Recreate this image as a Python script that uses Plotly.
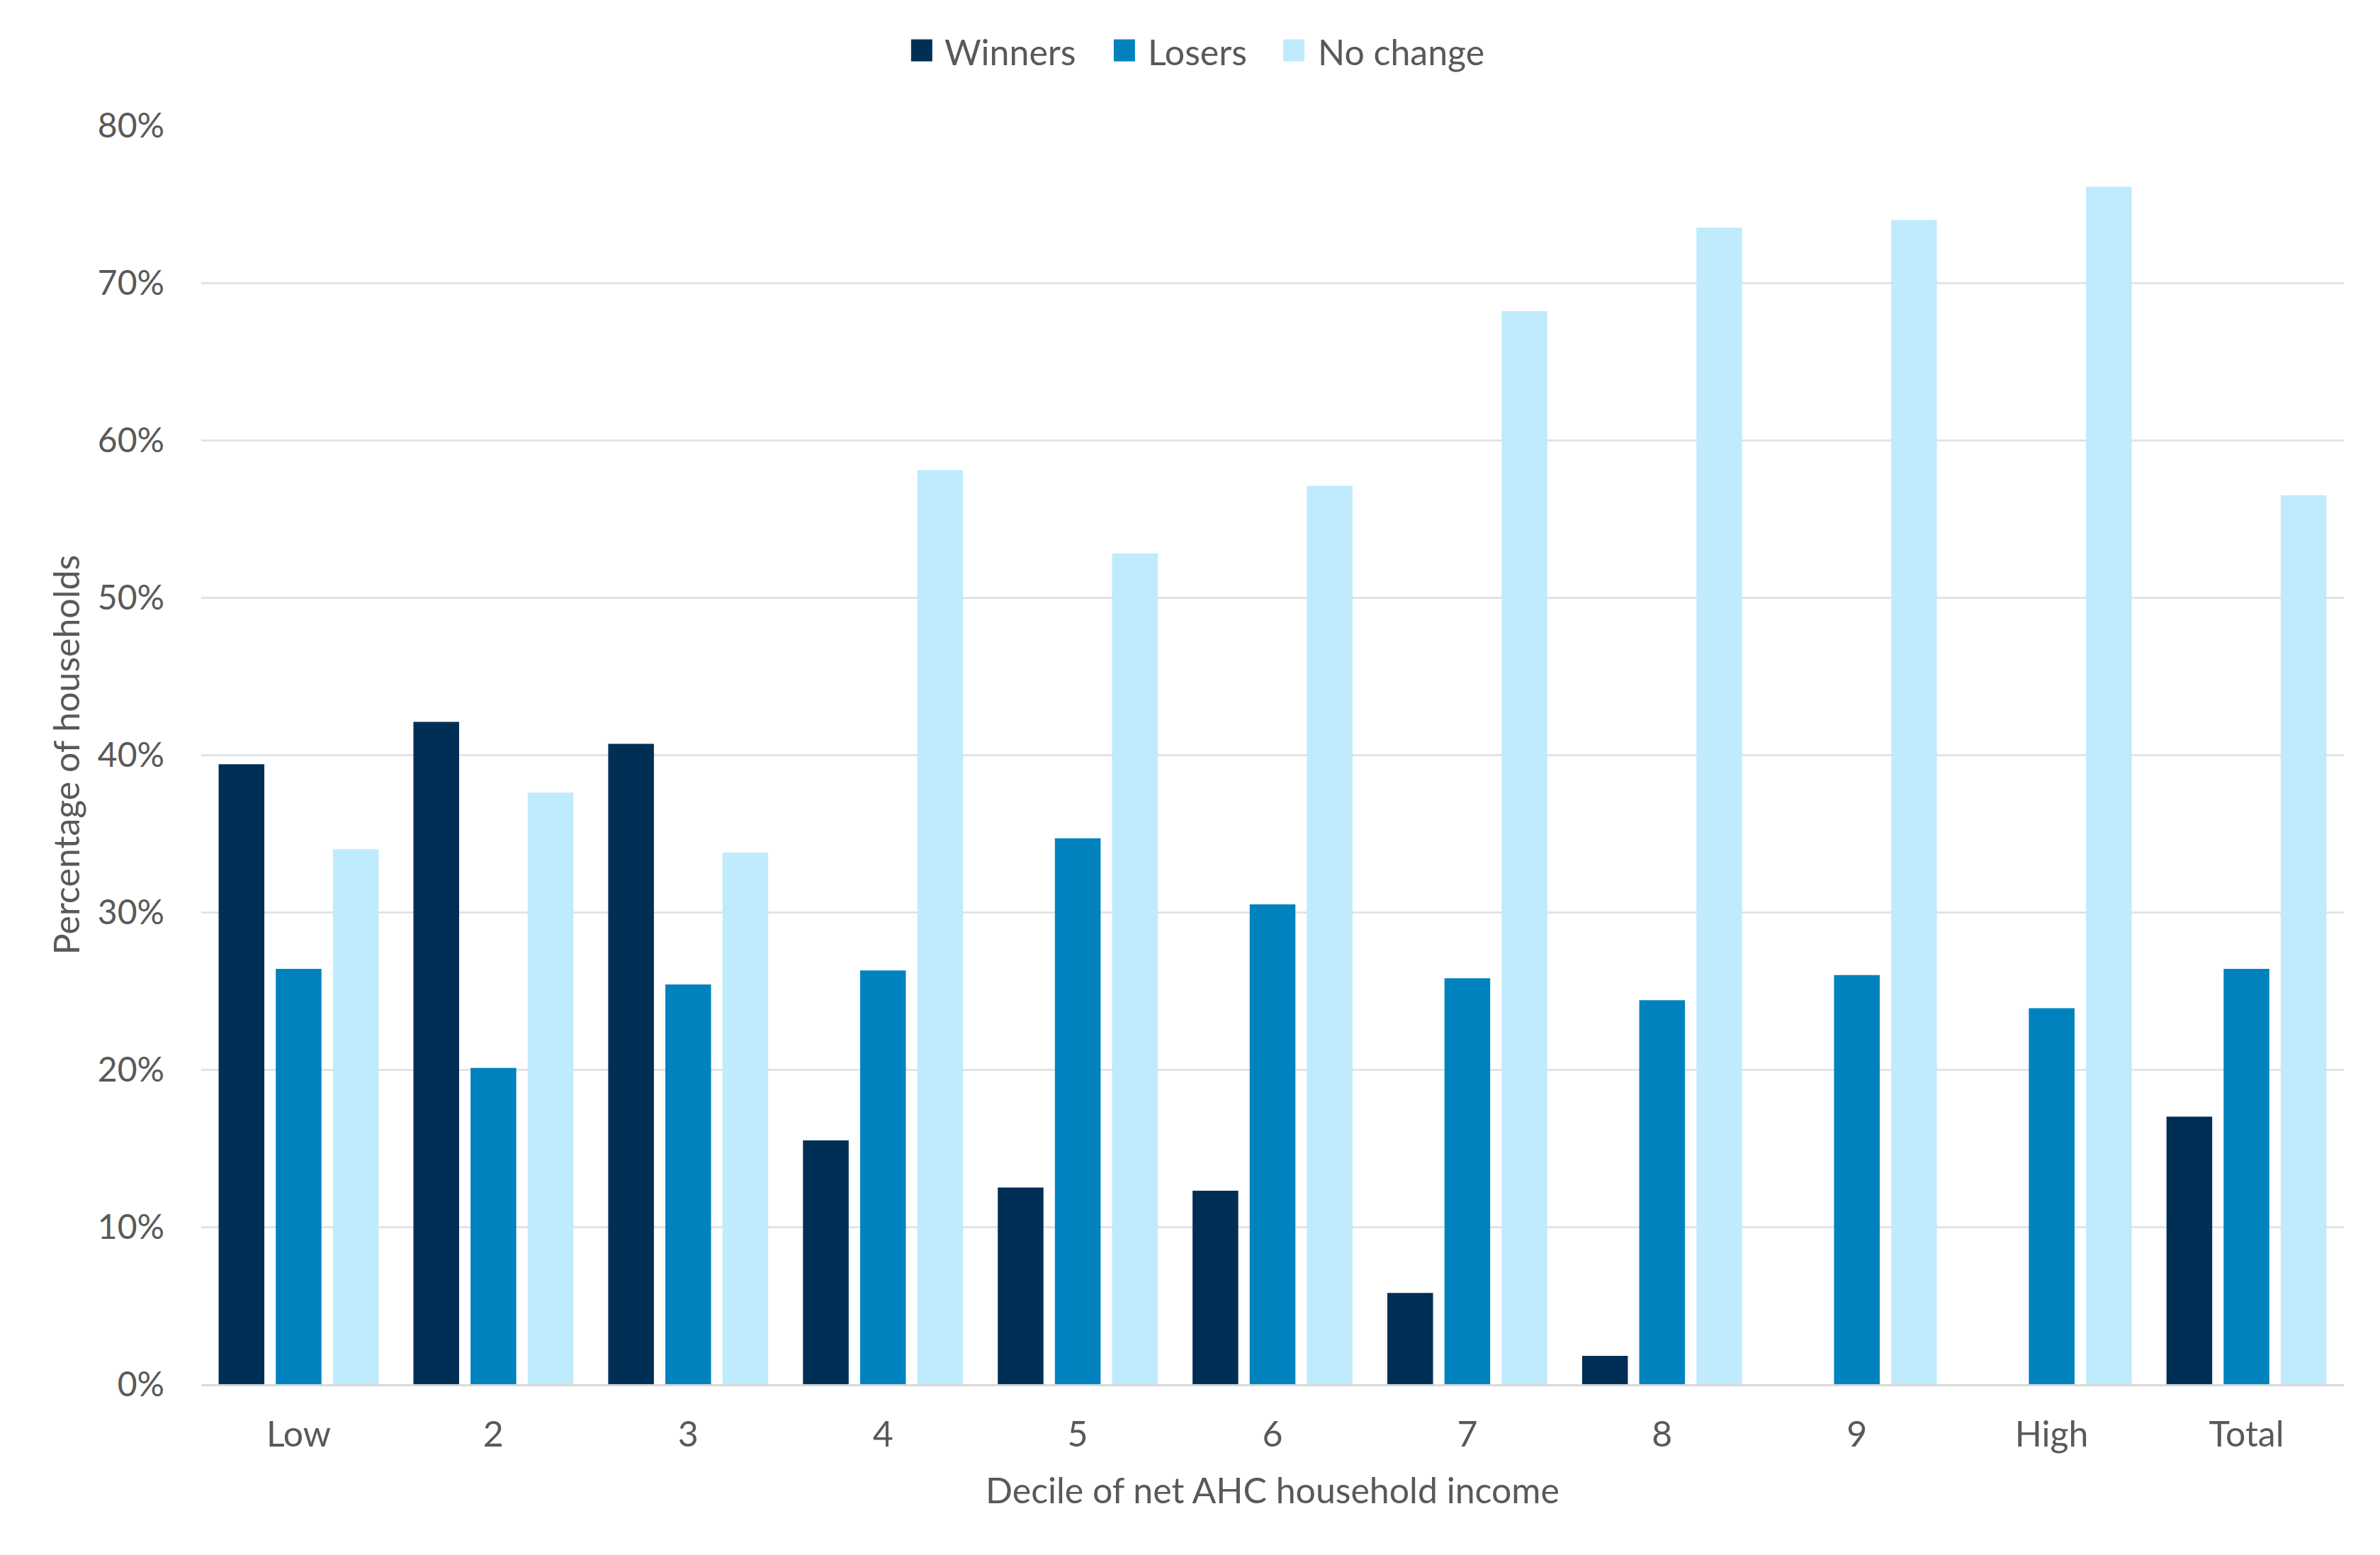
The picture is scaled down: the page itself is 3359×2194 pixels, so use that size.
import plotly.graph_objects as go

categories = ["Low", "2", "3", "4", "5", "6", "7", "8", "9", "High", "Total"]
winners = [39.4, 42.1, 40.7, 15.5, 12.5, 12.3, 5.8, 1.8, 0, 0, 17.0]
losers = [26.4, 20.1, 25.4, 26.3, 34.7, 30.5, 25.8, 24.4, 26.0, 23.9, 26.4]
no_change = [34.0, 37.6, 33.8, 58.1, 52.8, 57.1, 68.2, 73.5, 74.0, 76.1, 56.5]
y_ticks = [0, 10, 20, 30, 40, 50, 60, 70, 80]
y_tick_labels = [f"{v}%" for v in y_ticks]

series = [("Winners", winners, "#002F56"),
          ("Losers", losers, "#0082BF"),
          ("No change", no_change, "#BFEBFD")]

FONT = "Lato, 'Open Sans', sans-serif"
TXT = "#595959"

fig = go.Figure()
for name, vals, col in series:
    fig.add_trace(go.Bar(x=categories, y=vals, name=name, marker_color=col,
                         marker_line_width=0, showlegend=False))

# custom legend (squares + labels) above plot
legend_pos = [(0.3313, 0.3462), (0.4259, 0.4411), (0.5050, 0.5205)]
for (name, _, col), (sx, tx) in zip(series, legend_pos):
    fig.add_shape(type="rect", xref="paper", yref="paper",
                  x0=sx, x1=sx + 0.0099, y0=1.0509, y1=1.0684,
                  fillcolor=col, line_width=0)
    fig.add_annotation(text=name, xref="paper", yref="paper", x=tx, y=1.0588,
                       xanchor="left", yanchor="middle", showarrow=False,
                       font=dict(size=50, color=TXT, family=FONT))

fig.update_layout(
    width=3359, height=2194,
    barmode="group", bargap=0.12, bargroupgap=0.2,
    plot_bgcolor="white", paper_bgcolor="white",
    margin=dict(l=284, r=51, t=177, b=241),
    font=dict(family=FONT, color=TXT, size=50),
    showlegend=False,
    xaxis=dict(title=dict(text="Decile of net AHC household income", standoff=35,
                          font=dict(size=50, color=TXT)),
               automargin=False,
               showline=True, linecolor="#d9d9d9", linewidth=3,
               tickfont=dict(size=50, color=TXT), ticks="", ticklabelstandoff=25),
    yaxis=dict(title=dict(text="Percentage of households", standoff=9,
                          font=dict(size=50, color=TXT)),
               automargin=False,
               range=[0, 80], tickmode="array", tickvals=y_ticks, ticktext=y_tick_labels,
               showgrid=True, gridcolor="#e3e3e3", gridwidth=3,
               zeroline=False, ticks="", ticklabelstandoff=51,
               tickfont=dict(size=48, color=TXT)),
)

fig.write_html("out.html", config={"displayModeBar": False},
               post_script="document.body.style.margin='0';")
